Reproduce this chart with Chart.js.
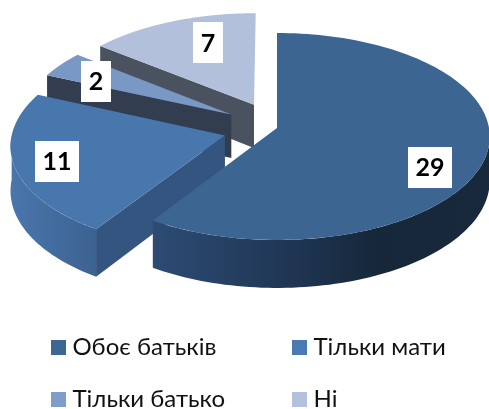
<!DOCTYPE html>
<html><head><meta charset="utf-8">
<style>html,body{margin:0;padding:0;background:#fff}canvas{display:block}</style>
<script src="https://cdn.jsdelivr.net/npm/chart.js@4/dist/chart.umd.js"></script>
</head><body>
<canvas id="c" width="489" height="409"></canvas>
<script>
const categories = ['Обоє батьків', 'Тільки мати', 'Тільки батько', 'Ні'];
const counts = [29, 11, 2, 7];
const explode = [0, 54, 54, 54];
const topColors = ['#3c6592', '#4877ae', '#7a98c6', '#b3c0dc'];
const legendColors = ['#3d6695', '#4a7ab3', '#7f9dc9', '#b3c1dc'];
const edgeColors = ['#223c5c', '#33557f', '#333d50', '#4a525f'];
const arcGradients = [['#2d4b74', '#223a5a', '#16273a', '#18293b'], ['#4a76ac', '#3c6291'], ['#333d50','#333d50'], ['#4a525f','#4a525f']];
const labelShift = [[4, 18], [-17, 4], [-11, 3], [15, -1]];
const legendSlots = [[51, 340], [292, 340], [51, 392], [292, 392]];

const K = 0.082, A = 102.8 / 212, H = 44, FONT = 'Lato, "Noto Sans", sans-serif';
function project(el, cx, cy, u, v, z) {
  const w = 1 - K * v / 1;
  return [cx + u * el.outerRadius / w, cy + (A * el.outerRadius * v + z) / w];
}
function draw3d(ctx, el, i) {
  const R = el.outerRadius, off = (el.options.offset || 0) / R;
  const a0 = el.startAngle, a1 = el.endAngle, mid = (a0 + a1) / 2;
  const ox = Math.cos(mid) * off, oy = Math.sin(mid) * off;
  const P = (a, r, z) => project(el, el.x, el.y, ox + r * Math.cos(a), oy + r * Math.sin(a), z);
  const poly = pts => { ctx.beginPath(); pts.forEach((p, n) => n ? ctx.lineTo(p[0], p[1]) : ctx.moveTo(p[0], p[1])); ctx.closePath(); };
  const edge = a => {
    poly([P(a, 0, 0), P(a, 1, 0), P(a, 1, H), P(a, 0, H)]);
    ctx.fillStyle = edgeColors[i]; ctx.fill();
  };
  if (Math.cos(a0) < -1e-6) edge(a0);
  if (Math.cos(a1) > 1e-6) edge(a1);
  // Outer rim: only the part that faces the viewer (sin > 0 on canvas angles)
  const lo = Math.max(a0, 0), hi = Math.min(a1, Math.PI);
  if (hi > lo) {
    const n = 80, top = [], bot = [];
    for (let s = 0; s <= n; s++) { const a = lo + (hi - lo) * s / n; top.push(P(a, 1, 0)); bot.push(P(a, 1, H)); }
    const xs = top.map(p => p[0]), g = ctx.createLinearGradient(Math.min(...xs), 0, Math.max(...xs), 0);
    const cols = arcGradients[i]; cols.forEach((c, n2) => g.addColorStop(n2 / (cols.length - 1), c));
    poly(top.concat(bot.reverse())); ctx.fillStyle = g; ctx.fill();
  }
  const face = [P(a0, 0, 0)];
  for (let s = 0; s <= 120; s++) face.push(P(a0 + (a1 - a0) * s / 120, 1, 0));
  poly(face); ctx.fillStyle = topColors[i]; ctx.fill();
}
const pie3d = {
  id: 'pie3d',
  beforeDatasetDraw(chart, args) {
    const ctx = chart.ctx, els = chart.getDatasetMeta(args.index).data;
    for (let i = els.length - 1; i >= 0; i--) draw3d(ctx, els[i], i);
    return false;
  },
  afterDraw(chart) {
    const ctx = chart.ctx, els = chart.getDatasetMeta(0).data, vals = chart.data.datasets[0].data;
    ctx.save();
    ctx.textAlign = 'center'; ctx.textBaseline = 'middle';
    els.forEach((el, i) => {
      const R = el.outerRadius, off = (el.options.offset || 0) / R, mid = (el.startAngle + el.endAngle) / 2;
      const r = off + 0.72;
      const p = project(el, el.x, el.y, r * Math.cos(mid), r * Math.sin(mid), 0);
      const x = p[0] + labelShift[i][0], y = p[1] + labelShift[i][1];
      const w = String(vals[i]).length > 1 ? 44 : 30, h = 41;
      ctx.fillStyle = '#fff'; ctx.fillRect(Math.round(x - w / 2), Math.round(y - h / 2), w, h);
      ctx.fillStyle = '#000'; ctx.font = 'bold 25px ' + FONT;
      ctx.fillText(String(vals[i]), Math.round(x), Math.round(y) + 1);
    });
    ctx.textAlign = 'left';
    ctx.font = '24px ' + FONT;
    chart.data.labels.forEach((t, i) => {
      const [bx, by] = legendSlots[i];
      ctx.fillStyle = legendColors[i]; ctx.fillRect(bx, by, 15, 15);
      ctx.fillStyle = '#111'; ctx.fillText(t, bx + 21.5, by + 7);
    });
    ctx.restore();
  }
};
new Chart(document.getElementById('c'), {
  type: 'pie',
  data: { labels: categories, datasets: [{ data: counts, offset: explode, radius: 212, borderWidth: 0, backgroundColor: topColors }] },
  options: {
    responsive: false, animation: false, events: [],
    layout: { padding: { left: 65, bottom: 153 } },
    plugins: { legend: { display: false }, tooltip: { enabled: false } }
  },
  plugins: [pie3d]
});
</script>
</body></html>
